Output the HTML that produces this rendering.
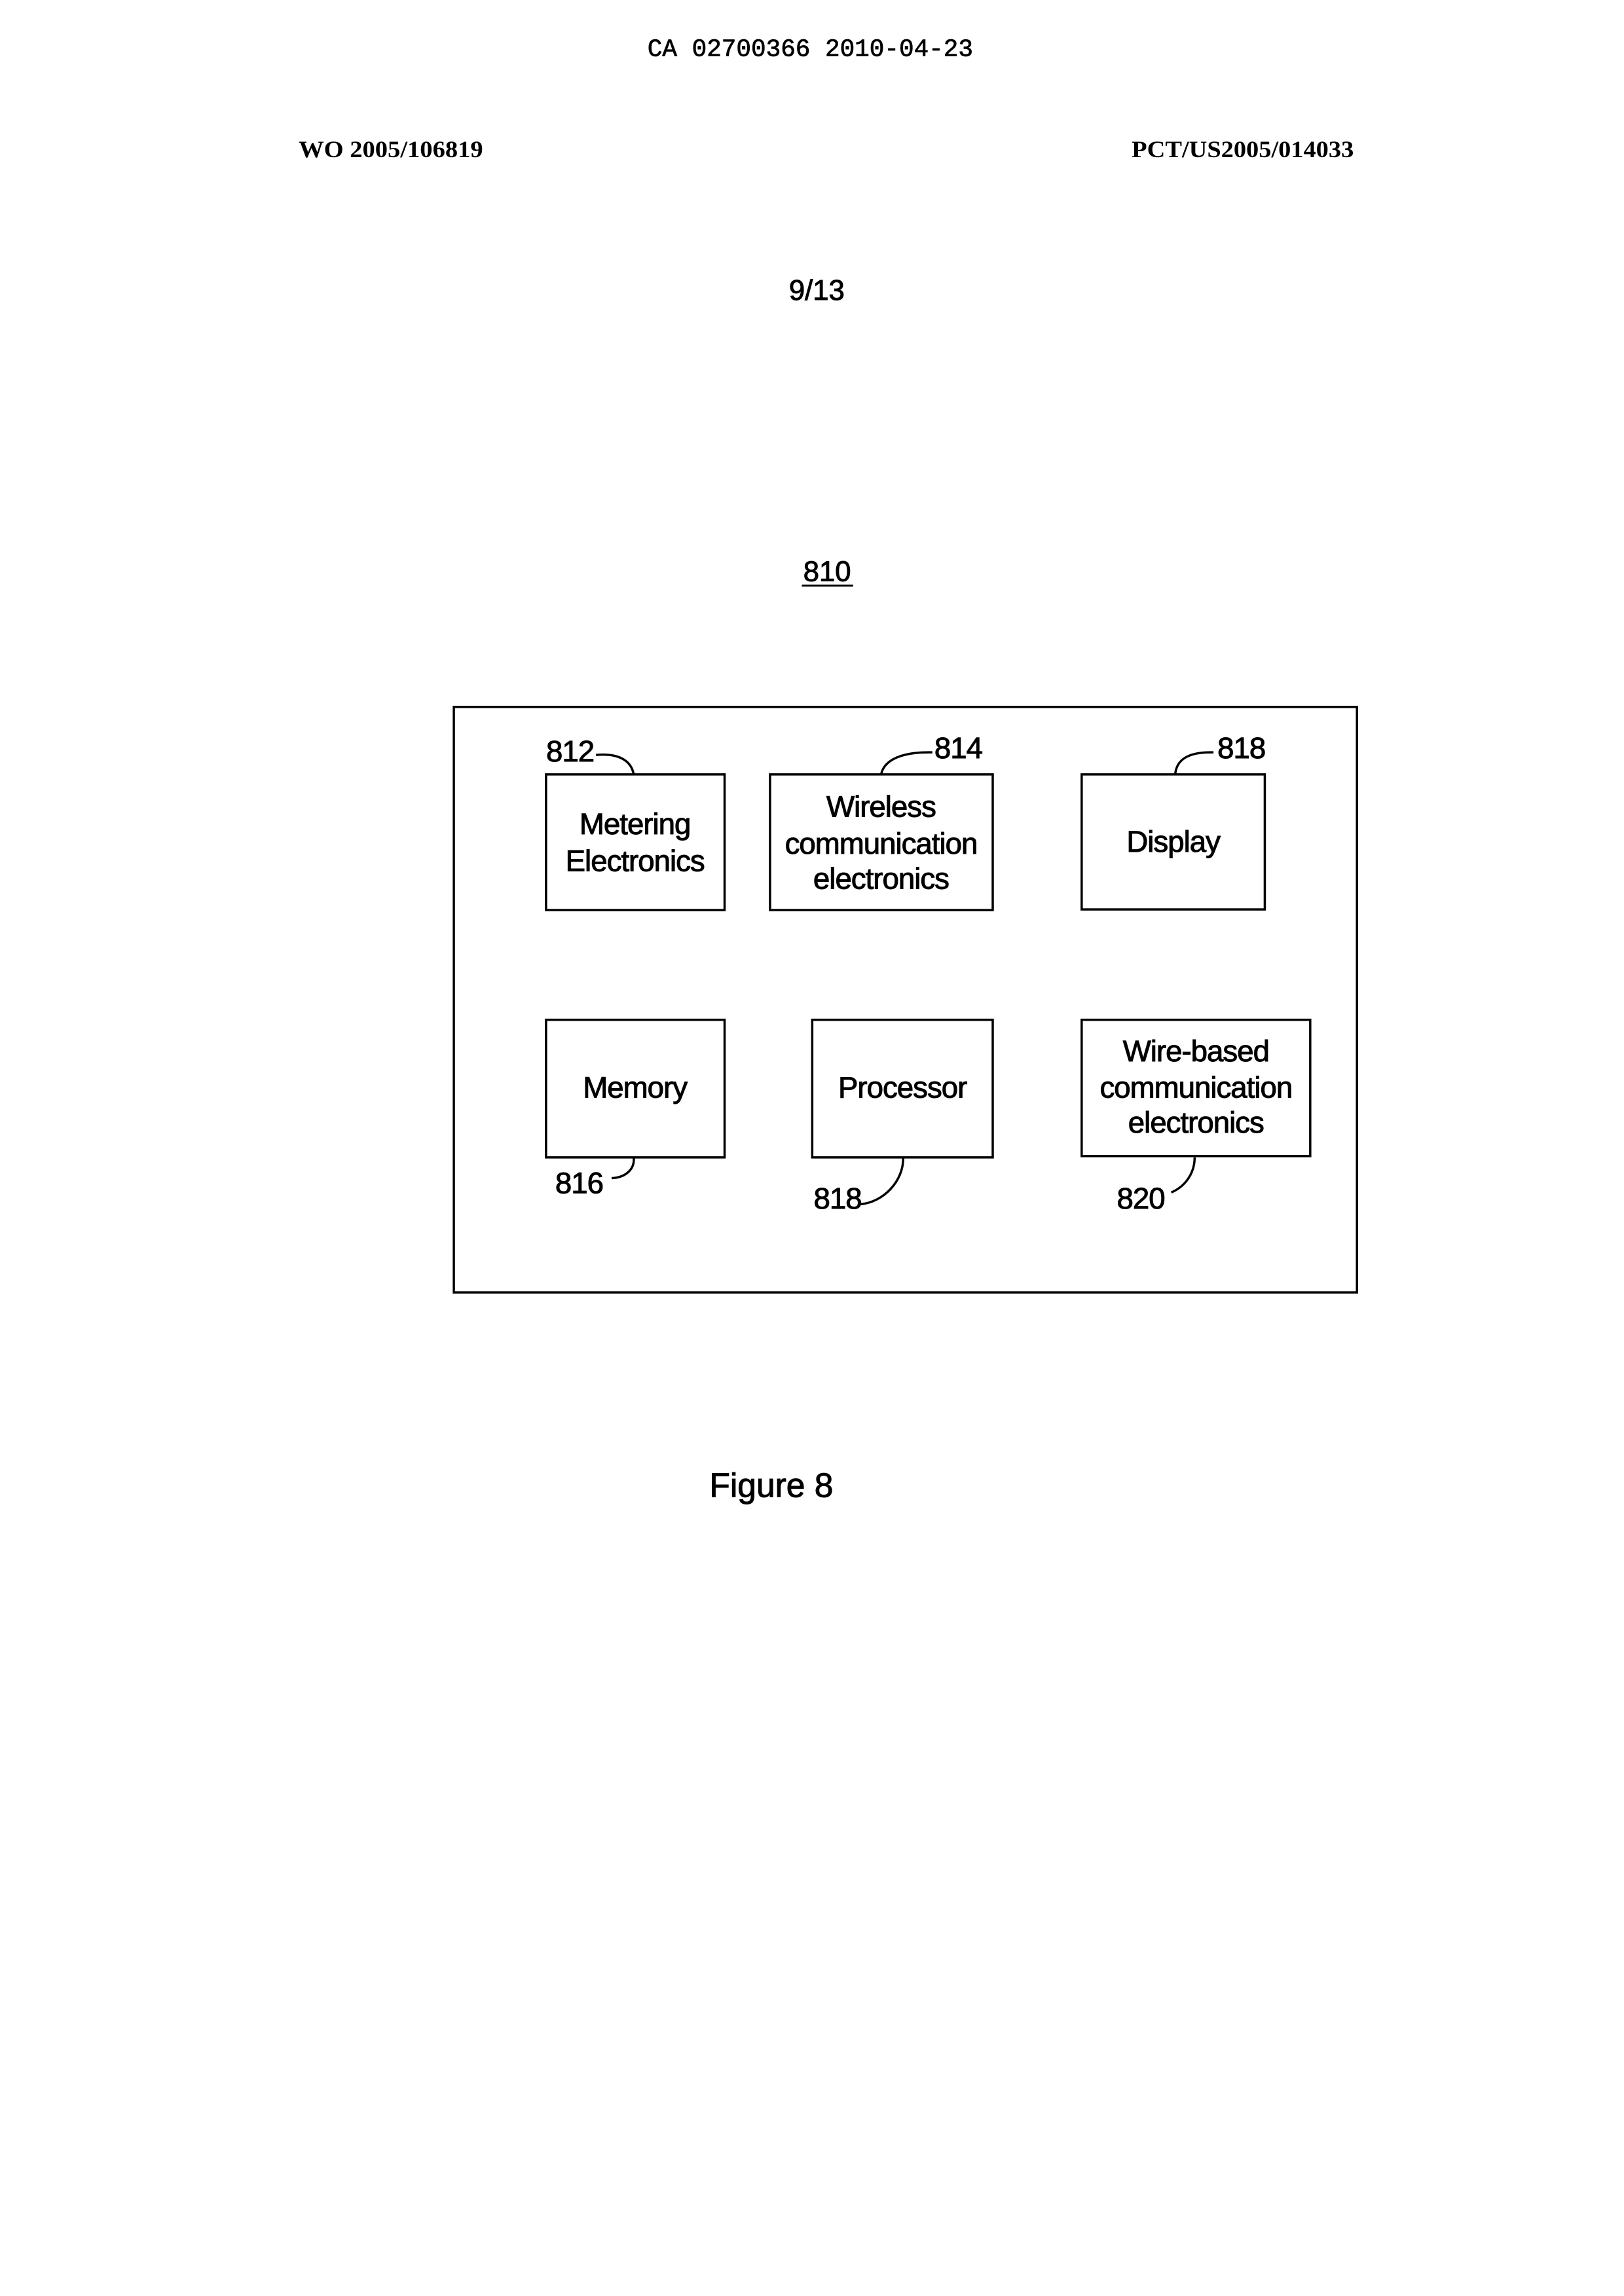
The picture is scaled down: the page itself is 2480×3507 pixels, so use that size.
<!DOCTYPE html>
<html><head><meta charset="utf-8"><style>
html,body{margin:0;padding:0;background:#fff;}
svg{display:block;}
</style></head><body>
<svg width="2480" height="3507" viewBox="0 0 2480 3507" xmlns="http://www.w3.org/2000/svg">
<rect width="2480" height="3507" fill="#fff"/>
<g transform="scale(0.9915)">
<g fill="#000">
<text x="1248" y="86" font-family="Liberation Mono, monospace" font-size="38" text-anchor="middle" stroke="#000" stroke-width="0.8">CA 02700366 2010-04-23</text>
<text x="460" y="242" font-family="Liberation Serif, serif" font-weight="bold" font-size="36" textLength="284" lengthAdjust="spacingAndGlyphs">WO 2005/106819</text>
<text x="1743" y="242" font-family="Liberation Serif, serif" font-weight="bold" font-size="36" textLength="342" lengthAdjust="spacingAndGlyphs">PCT/US2005/014033</text>
<text x="1258" y="462" font-family="Liberation Sans, sans-serif" font-size="44" text-anchor="middle" stroke="#000" stroke-width="1">9/13</text>
<text x="1274" y="895" font-family="Liberation Sans, sans-serif" font-size="44" text-anchor="middle" stroke="#000" stroke-width="1">810</text>
<text x="1188" y="2306" font-family="Liberation Sans, sans-serif" font-size="52" text-anchor="middle" stroke="#000" stroke-width="1">Figure 8</text>
</g>
<line x1="1235" y1="902" x2="1314" y2="902" stroke="#000" stroke-width="3"/>
<g fill="none" stroke="#000" stroke-width="3.5">
<rect x="699" y="1089" width="1391" height="902"/>
<rect x="841" y="1193" width="275" height="209"/>
<rect x="1186" y="1193" width="343" height="209"/>
<rect x="1666" y="1193" width="282" height="208"/>
<rect x="841" y="1571" width="275" height="212"/>
<rect x="1251" y="1571" width="278" height="212"/>
<rect x="1666" y="1571" width="352" height="210"/>
<path d="M918,1163 C950,1160 972,1170 976,1193"/>
<path d="M1436,1159 C1390,1158 1362,1170 1357,1193"/>
<path d="M1869,1159 C1830,1158 1812,1170 1810,1193"/>
<path d="M976,1783 C978,1800 965,1814 942,1815"/>
<path d="M1391,1783 C1392,1820 1360,1852 1326,1855"/>
<path d="M1840,1783 C1840,1808 1825,1828 1804,1837"/>
</g>
<g fill="#000" stroke="#000" stroke-width="1" font-family="Liberation Sans, sans-serif" font-size="46" text-anchor="middle" letter-spacing="-1">
<text x="878" y="1173">812</text>
<text x="1476" y="1168">814</text>
<text x="1912" y="1168">818</text>
<text x="892" y="1838">816</text>
<text x="1290" y="1862">818</text>
<text x="1757" y="1862">820</text>
<text x="978" y="1285">Metering</text>
<text x="978" y="1342">Electronics</text>
<text x="1357" y="1258">Wireless</text>
<text x="1357" y="1315">communication</text>
<text x="1357" y="1369">electronics</text>
<text x="1807" y="1312">Display</text>
<text x="978" y="1691">Memory</text>
<text x="1390" y="1691">Processor</text>
<text x="1842" y="1635">Wire-based</text>
<text x="1842" y="1691">communication</text>
<text x="1842" y="1745">electronics</text>
</g>
</g>
</svg>
</body></html>
